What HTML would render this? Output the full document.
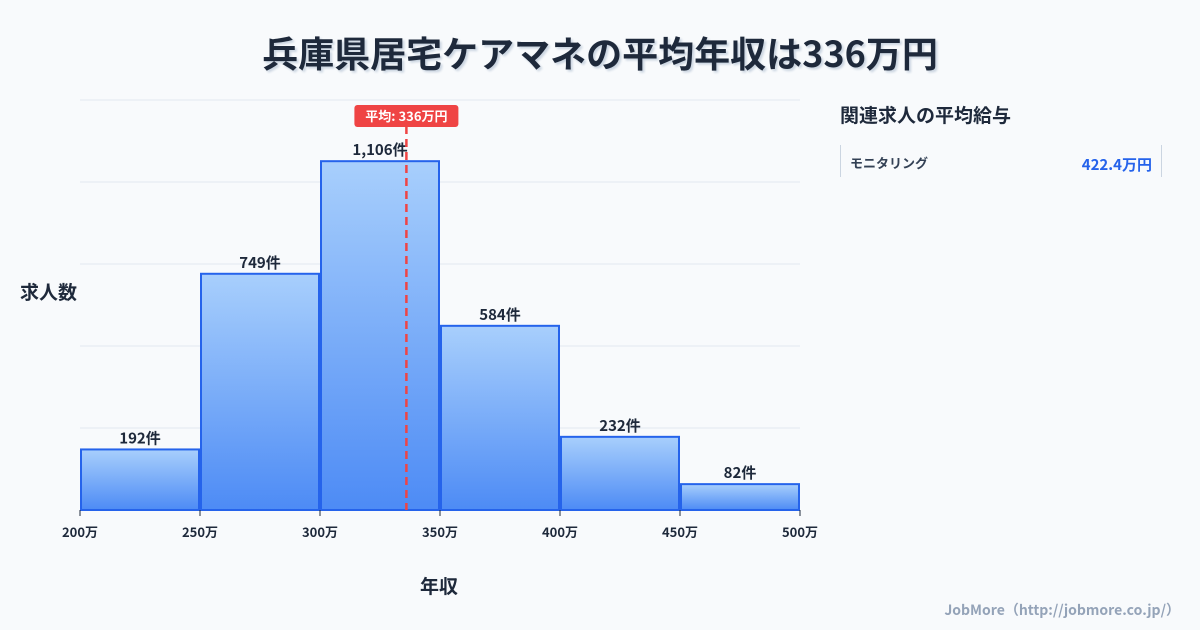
<!DOCTYPE html>
<html><head><meta charset="utf-8"><style>
body{margin:0;width:1200px;height:630px;background:#f8fafc;font-family:"Noto Sans CJK JP","Liberation Sans",sans-serif;overflow:hidden;position:relative;color:#1e293b}
.t{position:absolute;font-weight:bold}
svg text{font-family:"Noto Sans CJK JP","Liberation Sans",sans-serif}
</style></head><body>
<div class="t" style="left:0;width:1200px;top:26px;text-align:center;font-size:36px;line-height:52px;color:#1e293b;text-shadow:2px 2px 2px #cbd5e1">兵庫県居宅ケアマネの平均年収は336万円</div>
<svg id="c" width="1200" height="630" style="position:absolute;left:0;top:0">
<defs><linearGradient id="g" x1="0" y1="0" x2="0" y2="1"><stop offset="0" stop-color="#a8cffc"/><stop offset="1" stop-color="#4d8bf5"/></linearGradient></defs>
</svg>
<div class="t" style="left:20px;top:278px;font-size:19px;line-height:28px">求人数</div>
<div class="t" style="left:420px;top:572px;font-size:19px;line-height:28px">年収</div>
<div class="t" style="left:840px;top:101px;font-size:19px;line-height:28px">関連求人の平均給与</div>
<div style="position:absolute;left:840px;top:145px;width:320px;height:32px;border-left:1px solid #cbd5e1;border-right:1px solid #cbd5e1">
<span class="t" style="left:9px;top:8px;font-size:13px;line-height:20px;color:#334155">モニタリング</span>
<span class="t" style="right:9px;top:9px;font-size:15px;line-height:22px;color:#2563eb">422.4万円</span></div>
<div style="position:absolute;right:20px;top:600px;font-size:14px;line-height:20px;font-weight:bold;color:#94a3b8">JobMore（http://jobmore.co.jp/）</div>
<script>
const categories=["200万","250万","300万","350万","400万","450万"];
const binStarts=[200,250,300,350,400,450];
const counts=[192,749,1106,584,232,82];
const xTicks=[200,250,300,350,400,450,500];
const meanValue=336;
const svg=document.getElementById('c');const NS='http://www.w3.org/2000/svg';
const x=v=>80+(v-200)*720/300;
const y=v=>510-v*410/1300;
function mk(t,a){const e=document.createElementNS(NS,t);for(const k in a)e.setAttribute(k,a[k]);svg.appendChild(e);return e;}
for(let i=0;i<=5;i++){const g=mk('line',{x1:80,x2:800,y1:y(i*260),y2:y(i*260),stroke:'#e2e8f0','stroke-width':1});

}
counts.forEach((c,i)=>{const x0=x(binStarts[i])+1,x1=x(binStarts[i]+50)-1;
const r=mk('rect',{x:x0,y:y(c),width:x1-x0,height:y(0)-y(c),fill:'url(#g)',stroke:'#2563eb','stroke-width':2});


const t=mk('text',{x:(x0+x1)/2,y:y(c)-6,'text-anchor':'middle','font-size':15,'font-weight':'bold',fill:'#1e293b'});t.textContent=c.toLocaleString()+'件';

});
xTicks.forEach(v=>{mk('line',{x1:x(v),x2:x(v),y1:510,y2:516,stroke:'#1e293b'});
const t=mk('text',{x:x(v),y:537,'text-anchor':'middle','font-size':13,'font-weight':'bold',fill:'#1e293b'});t.textContent=v+'万';

});
const mx=x(meanValue);
const ml=mk('line',{x1:mx,x2:mx,y1:126,y2:510,stroke:'#ef4444','stroke-width':2.5,'stroke-dasharray':'8,5'});


const mb=mk('rect',{x:mx-52,y:105,width:104,height:22,rx:3,fill:'#ef4444'});


const mt=mk('text',{x:mx,y:121,'text-anchor':'middle','font-size':13,'font-weight':'bold',fill:'#fff'});mt.textContent='平均: '+meanValue+'万円';


</script>
</body></html>
